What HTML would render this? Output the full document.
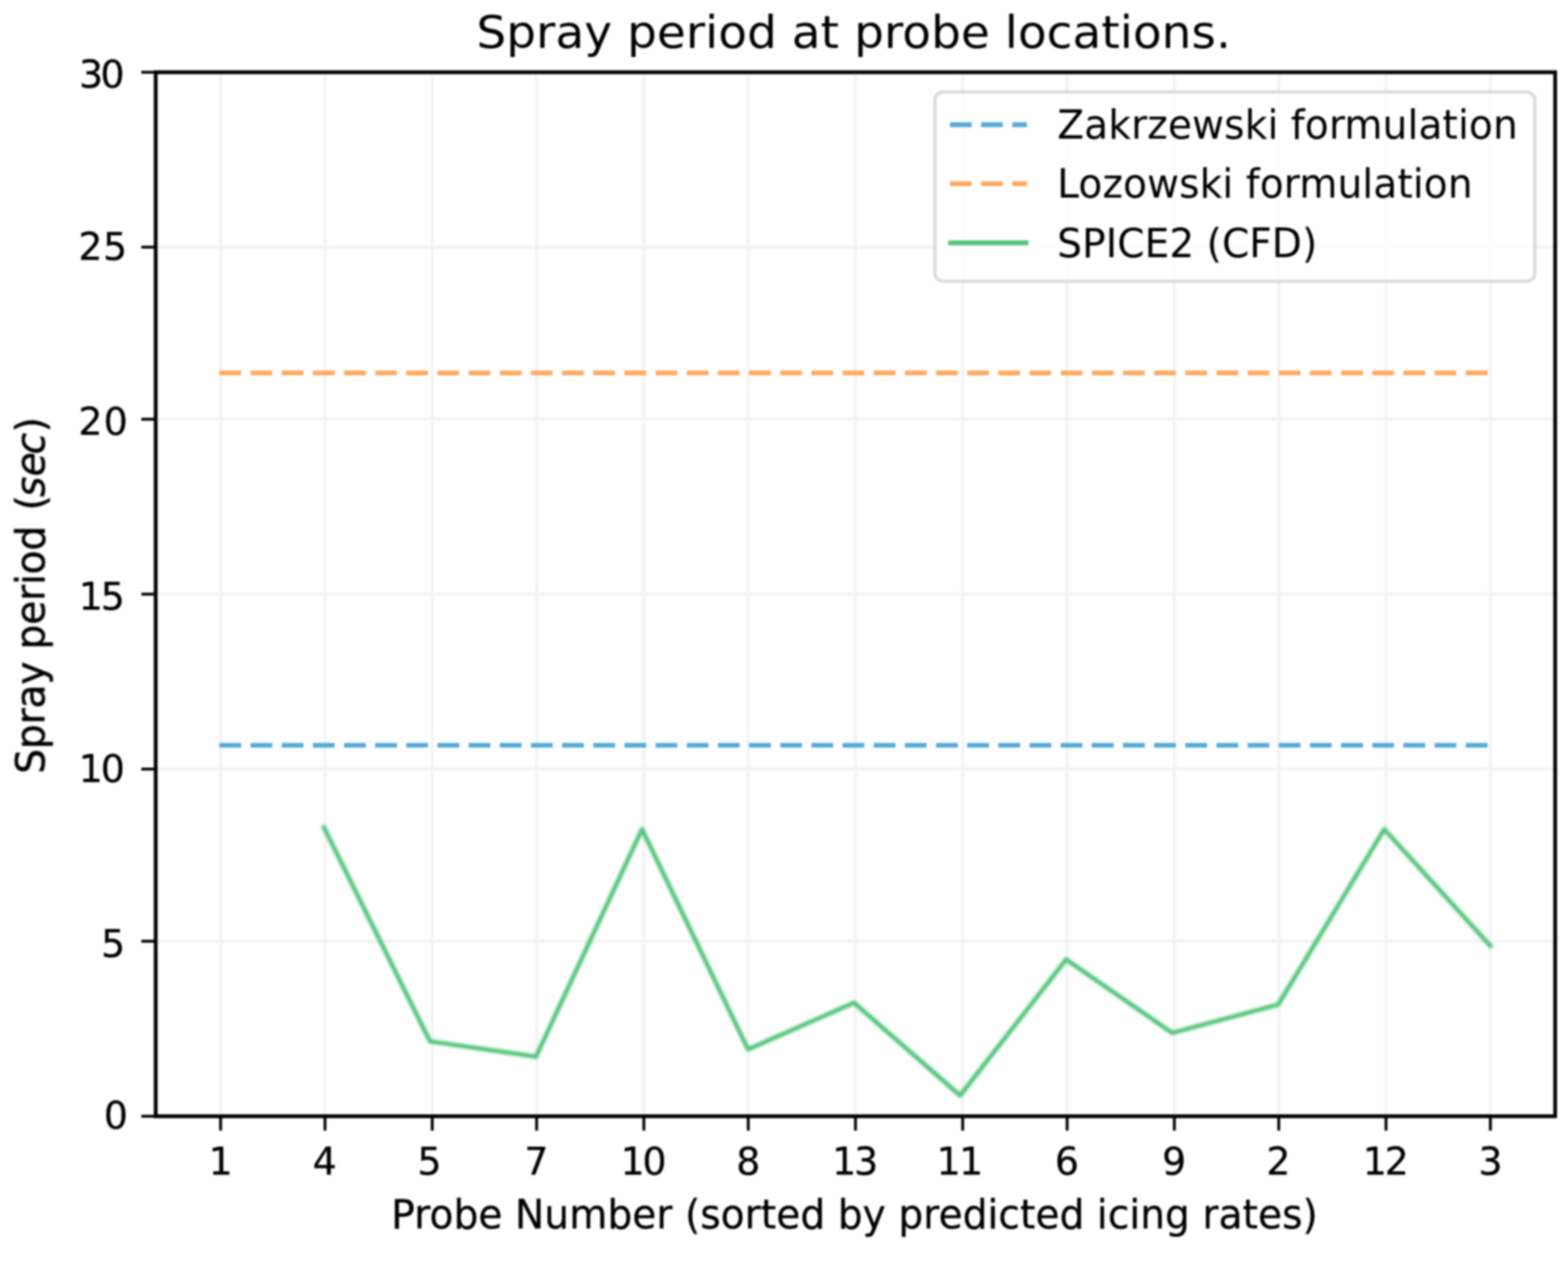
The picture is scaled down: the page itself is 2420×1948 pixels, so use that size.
<!DOCTYPE html>
<html lang="en">
<head>
<meta charset="utf-8">
<title>Spray period at probe locations.</title>
<style>
html,body{margin:0;padding:0;background:#fff;}
body{width:2420px;height:1948px;overflow:hidden;}
svg{display:block;font-family:"DejaVu Sans","Liberation Sans",sans-serif;}
text{fill:#000;white-space:pre;}
</style>
</head>
<body>
<svg width="2420" height="1948" viewBox="0 0 2420 1948">
<rect x="0" y="0" width="2420" height="1948" fill="#fff"/>
<defs><filter id="soft" x="0" y="0" width="2420" height="1948" filterUnits="userSpaceOnUse" color-interpolation-filters="sRGB"><feGaussianBlur stdDeviation="1.6"/></filter><filter id="soft2" x="0" y="0" width="2420" height="1948" filterUnits="userSpaceOnUse" color-interpolation-filters="sRGB"><feGaussianBlur stdDeviation="2.2"/></filter><filter id="soft3" x="0" y="0" width="2420" height="1948" filterUnits="userSpaceOnUse" color-interpolation-filters="sRGB"><feGaussianBlur stdDeviation="1.8"/></filter></defs>
<g id="fig" filter="url(#soft)">
<g stroke="#f3f3f3" stroke-width="4.60" fill="none">
<line x1="340.47" y1="111.5" x2="340.47" y2="1723.0"/>
<line x1="501.60" y1="111.5" x2="501.60" y2="1723.0"/>
<line x1="667.09" y1="111.5" x2="667.09" y2="1723.0"/>
<line x1="828.23" y1="111.5" x2="828.23" y2="1723.0"/>
<line x1="993.72" y1="111.5" x2="993.72" y2="1723.0"/>
<line x1="1154.85" y1="111.5" x2="1154.85" y2="1723.0"/>
<line x1="1320.34" y1="111.5" x2="1320.34" y2="1723.0"/>
<line x1="1485.83" y1="111.5" x2="1485.83" y2="1723.0"/>
<line x1="1646.97" y1="111.5" x2="1646.97" y2="1723.0"/>
<line x1="1812.46" y1="111.5" x2="1812.46" y2="1723.0"/>
<line x1="1973.59" y1="111.5" x2="1973.59" y2="1723.0"/>
<line x1="2139.08" y1="111.5" x2="2139.08" y2="1723.0"/>
<line x1="2300.22" y1="111.5" x2="2300.22" y2="1723.0"/>
<line x1="240.3" y1="111.50" x2="2400.2" y2="111.50"/>
<line x1="240.3" y1="381.45" x2="2400.2" y2="381.45"/>
<line x1="240.3" y1="647.10" x2="2400.2" y2="647.10"/>
<line x1="240.3" y1="917.10" x2="2400.2" y2="917.10"/>
<line x1="240.3" y1="1187.10" x2="2400.2" y2="1187.10"/>
<line x1="240.3" y1="1452.85" x2="2400.2" y2="1452.85"/>
<line x1="240.3" y1="1723.00" x2="2400.2" y2="1723.00"/>
</g>
<line x1="338.6" y1="1150.3" x2="2300.02" y2="1150.3" stroke="#56aad8" stroke-width="7.2" stroke-dasharray="33.57 14.52"/>
<line x1="338.6" y1="575.66" x2="2300.02" y2="575.66" stroke="#ffa860" stroke-width="7.2" stroke-dasharray="33.57 14.52"/>
</g>
<g fill="none" stroke-width="7.00" filter="url(#soft2)">
<polyline points="499.95,1277.20 663.59,1607.40 827.24,1631.00 990.88,1280.00 1154.52,1619.70 1318.16,1547.80 1481.80,1691.00 1645.45,1481.00 1809.09,1594.40 1972.73,1550.60 2136.37,1280.00 2300.02,1459.70" stroke="#55c57b" stroke-linejoin="round" stroke-linecap="square"/>
</g>
<g id="fig2" filter="url(#soft)">
<g stroke="#000" stroke-width="4.40" fill="none">
<line x1="340.47" y1="1723.0" x2="340.47" y2="1745.17"/>
<line x1="501.60" y1="1723.0" x2="501.60" y2="1745.17"/>
<line x1="667.09" y1="1723.0" x2="667.09" y2="1745.17"/>
<line x1="828.23" y1="1723.0" x2="828.23" y2="1745.17"/>
<line x1="993.72" y1="1723.0" x2="993.72" y2="1745.17"/>
<line x1="1154.85" y1="1723.0" x2="1154.85" y2="1745.17"/>
<line x1="1320.34" y1="1723.0" x2="1320.34" y2="1745.17"/>
<line x1="1485.83" y1="1723.0" x2="1485.83" y2="1745.17"/>
<line x1="1646.97" y1="1723.0" x2="1646.97" y2="1745.17"/>
<line x1="1812.46" y1="1723.0" x2="1812.46" y2="1745.17"/>
<line x1="1973.59" y1="1723.0" x2="1973.59" y2="1745.17"/>
<line x1="2139.08" y1="1723.0" x2="2139.08" y2="1745.17"/>
<line x1="2300.22" y1="1723.0" x2="2300.22" y2="1745.17"/>
<line x1="240.3" y1="111.50" x2="218.13" y2="111.50"/>
<line x1="240.3" y1="381.45" x2="218.13" y2="381.45"/>
<line x1="240.3" y1="647.10" x2="218.13" y2="647.10"/>
<line x1="240.3" y1="917.10" x2="218.13" y2="917.10"/>
<line x1="240.3" y1="1187.10" x2="218.13" y2="1187.10"/>
<line x1="240.3" y1="1452.85" x2="218.13" y2="1452.85"/>
<line x1="240.3" y1="1723.00" x2="218.13" y2="1723.00"/>
</g>
<rect x="240.3" y="111.5" width="2159.90" height="1611.50" stroke="#000" stroke-width="5.8" fill="none" stroke-linejoin="miter"/>
<rect x="1443" y="142.0" width="925.80" height="292.00" rx="12.10" ry="12.10" fill="#fff" fill-opacity="0.8" stroke="#d2d2d2" stroke-opacity="0.8" stroke-width="5.2"/>
<line x1="1466.10" y1="192.5" x2="1585.00" y2="192.5" stroke="#56aad8" stroke-width="7.60" stroke-dasharray="33.57 14.52"/>
<line x1="1466.10" y1="283.5" x2="1585.00" y2="283.5" stroke="#ffa860" stroke-width="7.60" stroke-dasharray="33.57 14.52"/>
<line x1="1463.30" y1="374.9" x2="1587.20" y2="374.9" stroke="#55c57b" stroke-width="7.60"/>
</g>
<g id="txt" filter="url(#soft3)">
<text id="xt0" x="321.93" y="1812.60" font-size="58.50" letter-spacing="0.000" stroke="#000" stroke-width="0.4">1</text>
<text id="xt1" x="482.62" y="1812.60" font-size="58.50" letter-spacing="0.000" stroke="#000" stroke-width="0.4">4</text>
<text id="xt2" x="644.23" y="1812.60" font-size="58.50" letter-spacing="0.000" stroke="#000" stroke-width="0.4">5</text>
<text id="xt3" x="809.16" y="1812.60" font-size="58.50" letter-spacing="0.000" stroke="#000" stroke-width="0.4">7</text>
<text id="xt4" x="957.69" y="1812.60" font-size="58.50" letter-spacing="-3.361" stroke="#000" stroke-width="0.4">10</text>
<text id="xt5" x="1136.23" y="1812.60" font-size="58.50" letter-spacing="0.000" stroke="#000" stroke-width="0.4">8</text>
<text id="xt6" x="1284.27" y="1812.60" font-size="58.50" letter-spacing="-3.267" stroke="#000" stroke-width="0.4">13</text>
<text id="xt7" x="1445.41" y="1812.60" font-size="58.50" letter-spacing="-2.460" stroke="#000" stroke-width="0.4">11</text>
<text id="xt8" x="1627.92" y="1812.60" font-size="58.50" letter-spacing="0.000" stroke="#000" stroke-width="0.4">6</text>
<text id="xt9" x="1793.59" y="1812.60" font-size="58.50" letter-spacing="0.000" stroke="#000" stroke-width="0.4">9</text>
<text id="xt10" x="1954.42" y="1812.60" font-size="58.50" letter-spacing="0.000" stroke="#000" stroke-width="0.4">2</text>
<text id="xt11" x="2103.22" y="1812.60" font-size="58.50" letter-spacing="-3.390" stroke="#000" stroke-width="0.4">12</text>
<text id="xt12" x="2281.66" y="1812.60" font-size="58.50" letter-spacing="0.000" stroke="#000" stroke-width="0.4">3</text>
<text id="yt30" x="122.04" y="135.00" font-size="58.50" letter-spacing="-4.138" stroke="#000" stroke-width="0.4">30</text>
<text id="yt25" x="120.88" y="401.10" font-size="58.50" letter-spacing="1.004" stroke="#000" stroke-width="0.4">25</text>
<text id="yt20" x="120.88" y="670.80" font-size="58.50" letter-spacing="1.838" stroke="#000" stroke-width="0.4">20</text>
<text id="yt15" x="121.41" y="941.25" font-size="58.50" letter-spacing="-3.227" stroke="#000" stroke-width="0.4">15</text>
<text id="yt10" x="121.41" y="1206.60" font-size="58.50" letter-spacing="-3.014" stroke="#000" stroke-width="0.4">10</text>
<text id="yt5" x="156.11" y="1476.75" font-size="58.50" letter-spacing="0.000" stroke="#000" stroke-width="0.4">5</text>
<text id="yt0" x="160.37" y="1742.30" font-size="58.50" letter-spacing="0.000" stroke="#000" stroke-width="0.4">0</text>
<text id="title" x="735.13" y="73.60" font-size="72.58" letter-spacing="0.027" transform="matrix(1 0 0 0.95 0 3.680)">Spray period at probe locations.</text>
<text id="xlabel" x="603.88" y="1895.60" font-size="60.49" letter-spacing="0.028" transform="matrix(1 0 0 1.035 0 -66.346)" stroke="#000" stroke-width="0.4">Probe Number (sorted by predicted icing rates)</text>
<text id="leg0" x="1631.80" y="214.00" font-size="60.49" letter-spacing="0.111" transform="matrix(1 0 0 1.035 0 -7.490)">Zakrzewski formulation</text>
<text id="leg1" x="1631.57" y="305.50" font-size="60.49" letter-spacing="0.091" transform="matrix(1 0 0 1.035 0 -10.692)">Lozowski formulation</text>
<text id="leg2" x="1631.62" y="396.90" font-size="60.49" letter-spacing="-0.020" transform="matrix(1 0 0 1.035 0 -13.891)">SPICE2 (CFD)</text>
<text id="ylabel" transform="translate(68.50,1194.39) rotate(-90) scale(1 1.035)" stroke="#000" stroke-width="0.7" font-size="60.49" letter-spacing="-0.312">Spray period <tspan dx="5">(</tspan><tspan font-style="italic"><tspan dx="-2.7">s</tspan><tspan dx="0.7">e</tspan><tspan dx="-3">c</tspan></tspan><tspan dx="1">)</tspan></text>
</g>
</svg>
</body>
</html>
